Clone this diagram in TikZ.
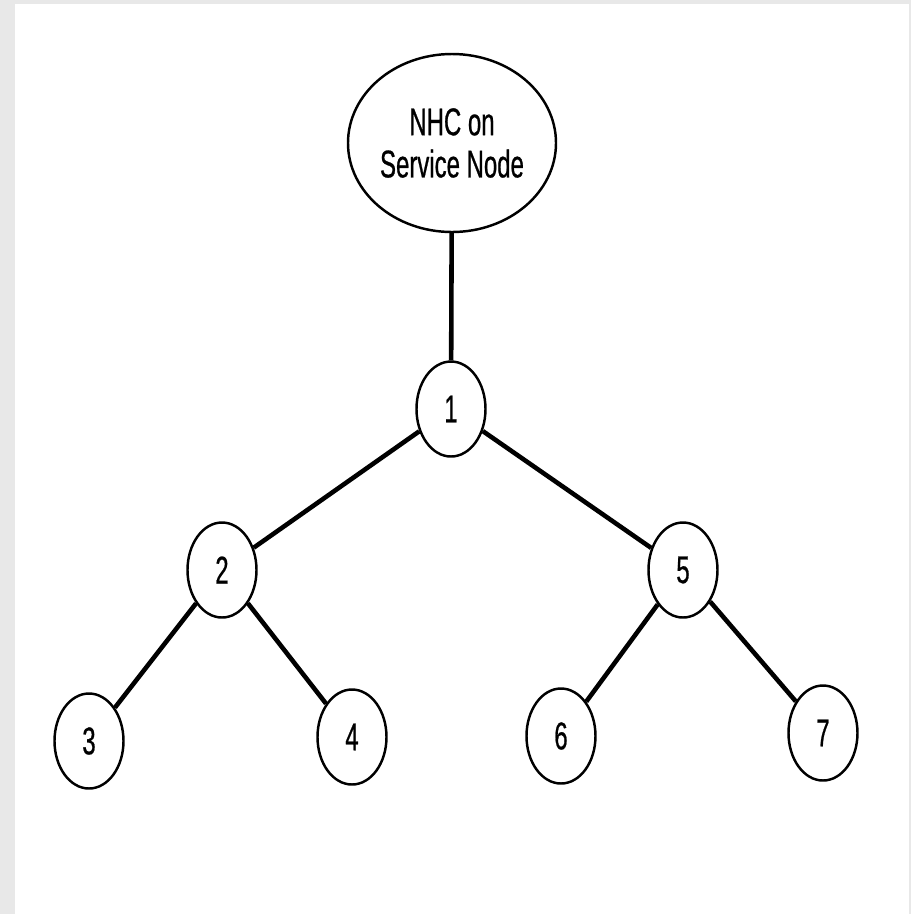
\documentclass[tikz,border=0pt]{standalone}
\usepackage{fontspec}
\newfontfamily\narrowsf{Liberation Sans}[FakeStretch=0.62, FakeBold=0.6]
\usetikzlibrary{shapes.geometric}

\begin{document}
\begin{tikzpicture}[scale=0.2]
            \tikzstyle{every node}+=[inner sep=0pt]
            \tikzstyle{vertex}=[draw=black, ellipse, line width=1.4pt, minimum width=1.38cm, minimum height=1.9cm, font=\narrowsf\fontsize{22}{24}\selectfont]
            \tikzstyle{root}=[vertex, minimum width=4.16cm, minimum height=3.56cm, align=center, font=\narrowsf\fontsize{22}{24}\selectfont]
            \tikzstyle{link}=[black, line width=2.6pt]
            \fill [black!9] (0,0) rectangle (91.1,-91.4);
            \fill [white] (1.5,-0.4) rectangle (90.85,-91.4);
            \node [root] (nhc) at (45.2,-14.3) {NHC on\\Service Node};
            \node [vertex] (n1) at (45.1,-40.9) {1};
            \node [vertex] (n2) at (22.2,-57.0) {2};
            \node [vertex] (n5) at (68.3,-57.0) {5};
            \node [vertex] (n3) at (8.9,-74.1) {3};
            \node [vertex] (n4) at (35.2,-73.7) {4};
            \node [vertex] (n6) at (56.1,-73.6) {6};
            \node [vertex] (n7) at (82.3,-73.3) {7};
            \draw [link] (nhc) -- (n1);
            \draw [link] (n1) -- (n2);
            \draw [link] (n1) -- (n5);
            \draw [link] (n2) -- (n3);
            \draw [link] (n2) -- (n4);
            \draw [link] (n5) -- (n6);
            \draw [link] (n5) -- (n7);
        \end{tikzpicture}
\end{document}
